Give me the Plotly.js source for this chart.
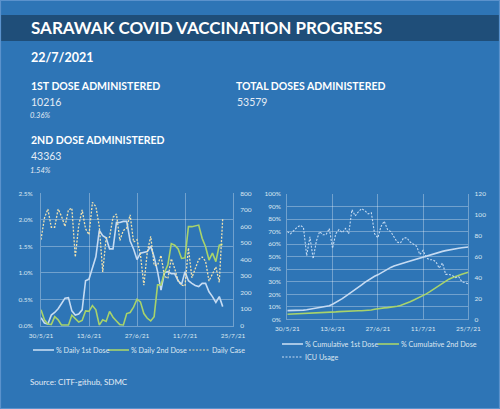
<!DOCTYPE html>
<html>
<head>
<meta charset="utf-8">
<script src="https://cdn.plot.ly/plotly-3.0.1.min.js"></script>
<style>
html,body{margin:0;padding:0;background:#2E75B6;overflow:hidden;}
#chart{width:500px;height:409px;}
</style>
</head>
<body>
<div id="chart"></div>
<script>
// ---- data ----
var dates = [
 '2021-05-30','2021-05-31',
 '2021-06-01','2021-06-02','2021-06-03','2021-06-04','2021-06-05','2021-06-06','2021-06-07','2021-06-08','2021-06-09','2021-06-10',
 '2021-06-11','2021-06-12','2021-06-13','2021-06-14','2021-06-15','2021-06-16','2021-06-17','2021-06-18','2021-06-19','2021-06-20',
 '2021-06-21','2021-06-22','2021-06-23','2021-06-24','2021-06-25','2021-06-26','2021-06-27','2021-06-28','2021-06-29','2021-06-30',
 '2021-07-01','2021-07-02','2021-07-03','2021-07-04','2021-07-05','2021-07-06','2021-07-07','2021-07-08','2021-07-09','2021-07-10',
 '2021-07-11','2021-07-12','2021-07-13','2021-07-14','2021-07-15','2021-07-16','2021-07-17','2021-07-18','2021-07-19','2021-07-20',
 '2021-07-21','2021-07-22','2021-07-23','2021-07-24','2021-07-25'
];
var dailyDates = dates.slice(0, 54);

var daily1stPct = [0.15,0.05,0.03,0.20,0.25,0.32,0.42,0.52,0.53,0.28,
  0.20,0.22,0.30,0.85,0.88,1.10,1.30,1.80,1.70,1.66,
  1.45,1.45,1.95,1.95,1.97,1.97,1.60,1.45,1.25,1.37,
  1.38,1.40,1.50,1.30,1.02,0.67,1.00,1.02,0.98,0.98,
  0.85,0.78,1.02,0.85,0.80,0.76,0.74,0.80,0.80,0.64,
  0.55,0.44,0.55,0.36];
var daily2ndPct = [0.30,0.11,0.03,0.02,0.17,0.11,0.01,0.01,0.01,0.20,
  0.14,0.07,0.10,0.28,0.27,0.38,0.30,0.01,0.11,0.08,
  0.27,0.16,0.09,0.02,0.01,0.23,0.25,0.35,0.50,0.45,
  0.23,0.14,0.09,0.17,0.77,0.77,1.00,1.15,1.55,1.52,
  1.45,1.27,1.28,1.87,1.87,1.88,1.90,1.65,1.49,1.24,
  1.37,1.21,1.52,1.54];
var dailyCase = [520,650,705,595,595,705,660,600,700,710,
  415,605,700,585,550,745,720,600,325,530,
  535,655,675,515,575,590,670,505,520,430,
  245,445,540,365,365,425,300,285,405,345,
  270,245,240,470,290,340,400,415,390,270,
  310,355,262,650];

var cum1stPct = [6.9,6.9,6.9,7.0,7.1, 7.3,7.6,8.0,8.5,9.0,
  9.3,9.6,10.0,10.8,12.0, 13.3,14.8,16.5,18.3,20.0,
  21.7,23.5,25.5,27.5,29.5, 31.3,33.0,34.3,35.5,37.0,
  38.8,40.2,41.4,42.5,43.5, 44.3,45.0,45.8,46.6,47.5,
  48.4,49.2,50.0,50.8,51.6, 52.4,53.0,53.6,54.2,54.8,
  55.4,55.9,56.3,56.7,57.1, 57.4,57.7];
var cum2ndPct = [4.0,4.1,4.2,4.2,4.3, 4.4,4.5,4.5,4.6,4.8,
  4.9,5.0,5.2,5.4,5.6, 5.9,6.1,6.3,6.4,6.5,
  6.6,6.7,6.8,6.8,6.9, 7.0,7.4,8.0,8.5,8.9,
  9.1,9.3,9.5,9.8,10.4, 11.0,11.8,12.8,14.0,15.2,
  16.4,17.7,19.0,20.3,21.9, 23.6,25.5,27.3,29.0,30.5,
  32.0,33.2,34.3,35.2,36.0, 36.8,37.5];
var icuUsage = [84,82,85,88,90, 88,61,79,58,75,
  84,81,81,87,68, 82,86,83,87,82,
  105,99,103,106,104, 101,102,82,78,89,
  94,86,84,79,74, 73,78,78,74,72,
  70,62,66,59,57, 57,55,49,54,43,
  43,42,40,41,36, 35,34];

var tickDates = ['2021-05-30','2021-06-13','2021-06-27','2021-07-11','2021-07-25'];
var tickLabels = ['30/5/21','13/6/21','27/6/21','11/7/21','25/7/21'];

var reportDate = '22/7/2021';
var dose1Count = '10216', dose1Pct = '0.36%';
var dose2Count = '43363', dose2Pct = '1.54%';
var totalDoses = '53579';

// ---- helpers ----
var W = 500, H = 409;
function px(x){ return x / W; }
function py(y){ return 1 - y / H; }

var FONT = 'Lato, "Open Sans", sans-serif';
var C1 = '#C6DBF2', C2 = '#A8D36B', CC = '#F2E2AE', CI = '#C6DBF2';
var GRID = 'rgba(255,255,255,0.32)';
var TICKC = '#DCE6F0';

var traces = [
  {x: dailyDates, y: daily1stPct, name: '% Daily 1st Dose', type: 'scatter', mode: 'lines',
   line: {color: C1, width: 1.6}, xaxis: 'x', yaxis: 'y'},
  {x: dailyDates, y: daily2ndPct, name: '% Daily 2nd Dose', type: 'scatter', mode: 'lines',
   line: {color: C2, width: 1.6}, xaxis: 'x', yaxis: 'y'},
  {x: dailyDates, y: dailyCase, name: 'Daily Case', type: 'scatter', mode: 'lines',
   line: {color: CC, width: 1.3, dash: '2px,1.5px'}, xaxis: 'x', yaxis: 'y2'},
  {x: dates, y: cum1stPct, name: '% Cumulative 1st Dose', type: 'scatter', mode: 'lines',
   line: {color: C1, width: 1.6}, xaxis: 'x2', yaxis: 'y3'},
  {x: dates, y: cum2ndPct, name: '% Cumulative 2nd Dose', type: 'scatter', mode: 'lines',
   line: {color: C2, width: 1.6}, xaxis: 'x2', yaxis: 'y3'},
  {x: dates, y: icuUsage, name: 'ICU Usage', type: 'scatter', mode: 'lines',
   line: {color: CI, width: 1.1, dash: '2px,1.5px'}, xaxis: 'x2', yaxis: 'y4'}
];
traces.forEach(function(t){ t.showlegend = false; t.hoverinfo = 'skip'; });

var tickFont = {family: FONT, size: 6.5, color: TICKC};
function xAxis(domain, anchor){
  return {type: 'date', domain: domain, anchor: anchor,
    range: [tickDates[0], tickDates[tickDates.length-1]],
    tickmode: 'array', tickvals: tickDates, ticktext: tickLabels,
    showgrid: true, gridcolor: GRID, gridwidth: 1,
    showline: true, linecolor: GRID, linewidth: 1, mirror: false,
    zeroline: false, ticks: '', tickfont: tickFont, ticklabelstandoff: 3, fixedrange: true};
}

var layout = {
  width: W, height: H, autosize: false, showlegend: false,
  margin: {l: 0, r: 0, t: 0, b: 0, pad: 0},
  paper_bgcolor: '#2E75B6', plot_bgcolor: 'rgba(0,0,0,0)',
  font: {family: FONT, color: '#FFFFFF'},
  xaxis: xAxis([px(41), px(233)], 'y'),
  yaxis: {domain: [py(325.7), py(193.3)], anchor: 'x', range: [0, 2.5], dtick: 0.5,
    tickformat: '.1f', ticksuffix: '%', showgrid: true, gridcolor: GRID,
    showline: true, linecolor: GRID, zeroline: false, ticks: '', tickfont: tickFont,
    ticklabelstandoff: 6, fixedrange: true},
  yaxis2: {overlaying: 'y', side: 'right', anchor: 'x', range: [0, 800], dtick: 100,
    showgrid: false, zeroline: false, showline: true, linecolor: GRID, ticks: '',
    tickfont: tickFont, ticklabelstandoff: 5, fixedrange: true},
  xaxis2: xAxis([px(287.3), px(468.3)], 'y3'),
  yaxis3: {domain: [py(319.3), py(194)], anchor: 'x2', range: [0, 100], dtick: 10,
    tickformat: 'd', ticksuffix: '%', showgrid: true, gridcolor: GRID,
    showline: true, linecolor: GRID, zeroline: false, ticks: '', tickfont: tickFont,
    ticklabelstandoff: 4, fixedrange: true},
  yaxis4: {overlaying: 'y3', side: 'right', anchor: 'x2', range: [0, 120], dtick: 20,
    showgrid: false, zeroline: false, showline: true, linecolor: GRID, ticks: '',
    tickfont: tickFont, ticklabelstandoff: 4, fixedrange: true},
  shapes: [
    {type: 'rect', xref: 'paper', yref: 'paper', x0: 0, x1: 1, y0: py(41), y1: py(15),
     fillcolor: '#1F4E79', line: {width: 0}, layer: 'below'},
    {type: 'rect', xref: 'paper', yref: 'paper', x0: px(0.5), x1: px(499.5), y0: py(408.5), y1: py(0.5),
     fillcolor: 'rgba(0,0,0,0)', line: {width: 1.2, color: '#5B92CC'}, layer: 'below'}
  ],
  annotations: []
};

function txt(text, x, y, size, opts){
  opts = opts || {};
  layout.annotations.push({text: text, xref: 'paper', yref: 'paper', x: px(x), y: py(y),
    xanchor: 'left', yanchor: 'middle', showarrow: false, borderpad: 0,
    font: {family: FONT, size: size, color: opts.color || '#FFFFFF',
           weight: opts.weight || 'normal', style: opts.style || 'normal'}});
}
txt('SARAWAK COVID VACCINATION PROGRESS', 30, 28, 17, {weight: 'bold'});
txt(reportDate, 30, 58, 12.5, {weight: 'bold'});
txt('1ST DOSE ADMINISTERED', 30, 86, 10.5, {weight: 'bold'});
txt(dose1Count, 30, 101.5, 10.5, {color: '#E4ECF5'});
txt(dose1Pct, 29, 115, 7.5, {style: 'italic', color: '#E4ECF5'});
txt('TOTAL DOSES ADMINISTERED', 235, 86, 10.5, {weight: 'bold'});
txt(totalDoses, 236, 101.5, 10.5, {color: '#E4ECF5'});
txt('2ND DOSE ADMINISTERED', 30, 140, 10.5, {weight: 'bold'});
txt(dose2Count, 30, 156, 10.5, {color: '#E4ECF5'});
txt(dose2Pct, 29, 170, 7.5, {style: 'italic', color: '#E4ECF5'});
txt('Source: CITF-github, SDMC', 29, 382, 8, {color: '#E4ECF5'});

// ---- legends (one per panel), drawn from the traces' own names and line styles ----
var legendSpots = [
  {trace: 0, x: 33, y: 350}, {trace: 1, x: 108, y: 350}, {trace: 2, x: 189, y: 350},
  {trace: 3, x: 282, y: 344}, {trace: 4, x: 378, y: 344}, {trace: 5, x: 282, y: 357}
];
legendSpots.forEach(function(s){
  var t = traces[s.trace];
  layout.shapes.push({type: 'line', xref: 'paper', yref: 'paper',
    x0: px(s.x), x1: px(s.x + 21), y0: py(s.y), y1: py(s.y),
    line: {color: t.line.color, width: t.line.dash ? 1.2 : 1.6, dash: t.line.dash || 'solid'}});
  txt(t.name, s.x + 22, s.y, 7.2, {color: '#DCE6F0'});
});

Plotly.newPlot('chart', traces, layout, {displayModeBar: false, staticPlot: true});
</script>
</body>
</html>
